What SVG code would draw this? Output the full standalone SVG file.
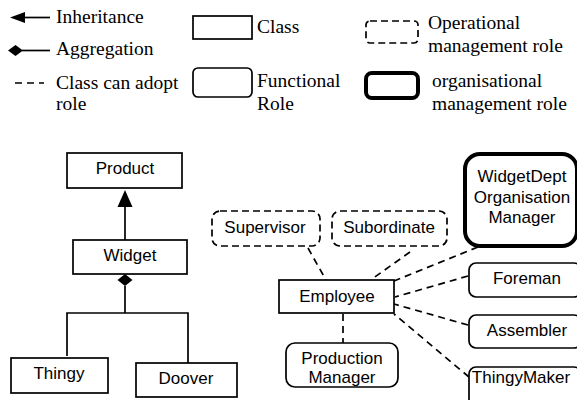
<svg xmlns="http://www.w3.org/2000/svg" width="577" height="400" viewBox="0 0 577 400">
<style>
.leg{font-family:"Liberation Serif","Times New Roman",serif;font-size:19.5px;fill:#000}
.lbl{font-family:"Liberation Sans",Arial,sans-serif;font-size:17px;fill:#000;text-anchor:middle}
.box{fill:#fff;stroke:#000;stroke-width:1.7}
.dbox{fill:#fff;stroke:#000;stroke-width:1.7;stroke-dasharray:7,4}
.tbox{fill:#fff;stroke:#000;stroke-width:4}
.ln{fill:none;stroke:#000;stroke-width:1.7}
.dl{fill:none;stroke:#000;stroke-width:1.7;stroke-dasharray:7,5}
</style>
<rect width="577" height="400" fill="#fff"/>
<g id="legend">
  <line class="ln" x1="24" y1="17.5" x2="50" y2="17.5"/>
  <polygon points="10,17.5 25,12 25,23" fill="#000"/>
  <text class="leg" x="56" y="23">Inheritance</text>
  <line class="ln" x1="22" y1="50.5" x2="50" y2="50.5"/>
  <polygon points="8,50.5 15.5,45 23,50.5 15.5,56" fill="#000"/>
  <text class="leg" x="56" y="55">Aggregation</text>
  <line class="dl" x1="15" y1="83" x2="44" y2="83" stroke-dasharray="6,5"/>
  <text class="leg" x="56" y="89">Class can adopt</text>
  <text class="leg" x="56" y="110">role</text>
  <rect class="box" x="193" y="16" width="59" height="23"/>
  <text class="leg" x="257" y="33">Class</text>
  <rect class="box" x="193" y="68" width="59" height="29" rx="5"/>
  <text class="leg" x="257" y="87">Functional</text>
  <text class="leg" x="257" y="110">Role</text>
  <rect class="dbox" x="366" y="21" width="52" height="22" rx="4"/>
  <text class="leg" x="428" y="29">Operational</text>
  <text class="leg" x="428" y="52">management role</text>
  <rect class="tbox" x="366" y="73" width="52" height="25" rx="6" stroke-width="4.5"/>
  <text class="leg" x="432" y="87">organisational</text>
  <text class="leg" x="432" y="110">management role</text>
</g>
<g id="connectors">
  <line class="ln" x1="125" y1="240" x2="125" y2="205"/>
  <polygon points="125,190 117.5,207 132.5,207" fill="#000"/>
  <polygon points="125,274 132.5,280 125,286 117.5,280" fill="#000"/>
  <polyline class="ln" points="125,286 125,313"/>
  <polyline class="ln" points="67,356 67,313 188,313 188,363"/>
  <line class="dl" x1="308" y1="248" x2="326" y2="280"/>
  <line class="dl" x1="410" y1="252" x2="372" y2="279"/>
  <line class="dl" x1="478" y1="247" x2="394" y2="281"/>
  <line class="dl" x1="468" y1="276" x2="395" y2="297"/>
  <line class="dl" x1="468" y1="325" x2="394" y2="304"/>
  <line class="dl" x1="469" y1="377" x2="394" y2="314"/>
  <line class="dl" x1="343" y1="314" x2="343" y2="343"/>
</g>
<g id="product"><rect class="box" x="67" y="153" width="115" height="35"/><text class="lbl" x="125" y="174">Product</text></g>
<g id="widget"><rect class="box" x="73" y="240" width="114" height="34"/><text class="lbl" x="130" y="261">Widget</text></g>
<g id="thingy"><rect class="box" x="11" y="358" width="97" height="35"/><text class="lbl" x="59" y="379">Thingy</text></g>
<g id="doover"><rect class="box" x="136" y="363" width="101" height="34"/><text class="lbl" x="186" y="384">Doover</text></g>
<g id="supervisor"><rect class="dbox" x="212" y="211" width="108" height="35" rx="8"/><text class="lbl" x="265" y="233">Supervisor</text></g>
<g id="subordinate"><rect class="dbox" x="332" y="211" width="115" height="35" rx="8"/><text class="lbl" x="389" y="233">Subordinate</text></g>
<g id="widgetdept"><rect class="tbox" x="465" y="154" width="112" height="92" rx="15" stroke-width="3.5"/><text class="lbl" x="522" y="182">WidgetDept</text><text class="lbl" x="522" y="203">Organisation</text><text class="lbl" x="522" y="223">Manager</text></g>
<g id="foreman"><rect class="box" x="469" y="263" width="112" height="34" rx="7"/><text class="lbl" x="527" y="284">Foreman</text></g>
<g id="assembler"><rect class="box" x="469" y="315" width="112" height="33" rx="7"/><text class="lbl" x="527" y="336">Assembler</text></g>
<g id="thingymaker"><rect class="box" x="469" y="367" width="112" height="40" rx="7"/><text class="lbl" x="521" y="383">ThingyMaker</text></g>
<g id="employee"><rect class="box" x="279" y="280" width="115" height="33"/><text class="lbl" x="337" y="302">Employee</text></g>
<g id="production"><rect class="box" x="286" y="343" width="112" height="44" rx="9"/><text class="lbl" x="342" y="364">Production</text><text class="lbl" x="342" y="383">Manager</text></g>
</svg>
